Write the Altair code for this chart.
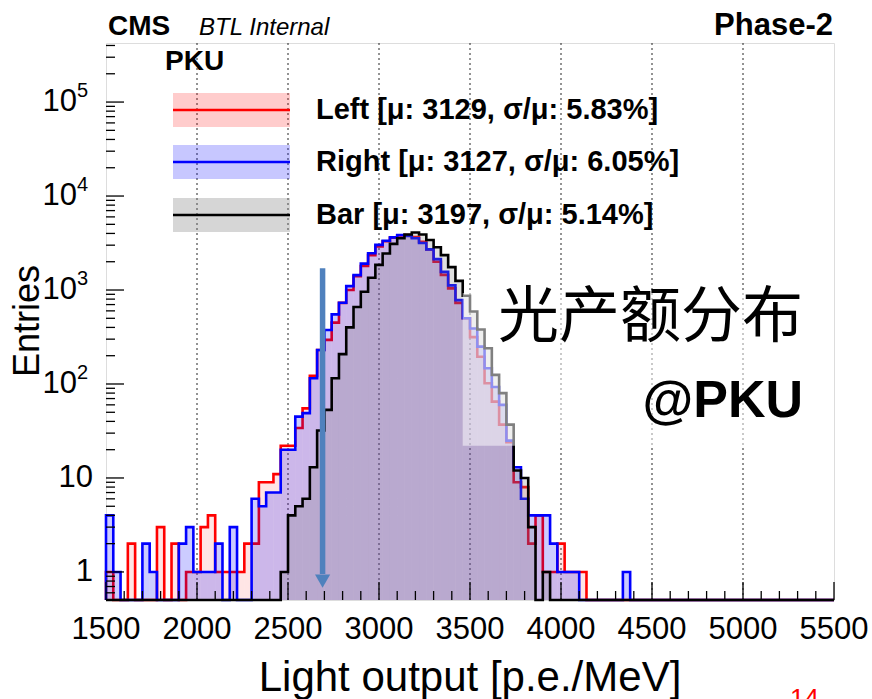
import altair as alt
import pandas as pd
import numpy as np

# Histogram binning: 100 bins of 40 p.e./MeV from 1500 to 5500
BIN_START = 1500
BIN_WIDTH = 40
N_BINS = 100

# Entries per bin, starting at the 1500 bin (trailing bins are empty)
left_counts = [1, 0, 0, 2, 0, 0, 0, 3, 0, 2,
               0, 1, 1, 3, 4, 1, 1, 1, 1, 2,
               2, 9, 9, 11, 22, 22, 34, 55, 122, 230,
               295, 450, 730, 1000, 1400, 1800, 2350, 2900, 3300, 3600,
               3800, 3850, 3650, 3250, 2700, 2000, 1450, 1040, 730, 500,
               315, 195, 102, 65, 37, 24, 9, 8, 2, 4,
               1, 1, 2, 1, 1, 1]
right_counts = [4, 1, 0, 0, 0, 2, 1, 0, 0, 0,
                2, 3, 1, 1, 1, 2, 0, 3, 0, 0,
                6, 5, 7, 7, 20, 20, 45, 49, 115, 230,
                375, 550, 733, 1100, 1440, 1910, 2460, 3020, 3340, 3630,
                3850, 3750, 3550, 3170, 2710, 2130, 1560, 1120, 780, 500,
                390, 250, 147, 93, 60, 25, 13, 6, 4, 4,
                4, 2, 1, 1, 1, 0, 0, 0, 0, 0,
                0, 1]
bar_counts = [0, 0, 0, 0, 0, 0, 0, 0, 0, 0,
              0, 0, 0, 0, 0, 0, 0, 0, 0, 0,
              0, 0, 0, 0, 1, 4, 5, 6, 13, 32,
              53, 115, 208, 400, 660, 960, 1350, 1850, 2450, 3100,
              3550, 3900, 4100, 3900, 3400, 2850, 2350, 1750, 1250, 870,
              590, 380, 240, 125, 80, 37, 12, 10, 3, 0,
              1]

series_names = ["Left", "Right", "Bar"]
series_labels = ["Left [μ: 3129,  σ/μ: 5.83%]",
                 "Right [μ: 3127,  σ/μ: 6.05%]",
                 "Bar [μ: 3197,  σ/μ: 5.14%]"]
series_lines = ["#ff0000", "#0000ff", "#000000"]
series_fills = ["#ff0000", "#0000ff", "#808080"]
series_fill_opacity = [0.1, 0.2, 0.25]

x_ticks = [1500, 2000, 2500, 3000, 3500, 4000, 4500, 5000, 5500]
x_grid = [2000, 2500, 3000, 3500, 4000, 4500, 5000]
y_plain = [1, 10]
y_powers = [2, 3, 4, 5]

# annotation: translucent box behind the Chinese caption, and the arrow
caption_box = {"x0": [3460], "x1": [5380], "y0": [930], "y1": [22]}
arrow = {"x": [2690], "top": [1700], "bottom": [0.95], "head": [0.8]}

W, H = 728, 557
Y_MIN, Y_MAX = 0.503, 4.25e5
FONT = "Liberation Sans"

x_scale = alt.Scale(domain=[1500, 5500], nice=False, zero=False)
y_scale = alt.Scale(type="log", domain=[Y_MIN, Y_MAX], nice=False, clamp=True)


def step_frame(counts):
    c = list(counts) + [0] * (N_BINS - len(counts))
    xs = [BIN_START] + [BIN_START + i * BIN_WIDTH for i in range(N_BINS)] + [BIN_START + N_BINS * BIN_WIDTH]
    ys = [0] + c + [0]
    df = pd.DataFrame({"x": xs, "count": ys})
    df["order"] = np.arange(len(df))
    # empty bins sit below the axis floor and get clamped to it
    df["plot_count"] = np.where(df["count"] > 0, df["count"], 0.01)
    return df


def X(field):
    return alt.X(field, scale=x_scale, axis=None)


def Y(field):
    return alt.Y(field, scale=y_scale, axis=None)


one = pd.DataFrame({"k": [0]})
layers = []

# dotted vertical grid
layers.append(alt.Chart(pd.DataFrame({"x": x_grid})).mark_rule(
    color="#000000", strokeWidth=1, strokeDash=[2, 3], opacity=0.85
).encode(x=X("x:Q"), y=alt.value(0), y2=alt.value(H)))

for counts, line_c, fill_c, fop in zip([left_counts, right_counts, bar_counts],
                                       series_lines, series_fills, series_fill_opacity):
    df = step_frame(counts)
    layers.append(alt.Chart(df).mark_area(
        interpolate="step-after", color=fill_c, opacity=fop
    ).encode(x=X("x:Q"), y=Y("plot_count:Q"), y2=alt.value(H), order="order:Q"))
    layers.append(alt.Chart(df).mark_line(
        interpolate="step-after", color=line_c, strokeWidth=2.6
    ).encode(x=X("x:Q"), y=Y("plot_count:Q"), order="order:Q"))

# inward tick marks
x_major = list(range(1500, 5501, 500))
x_minor = [v for v in range(1500, 5501, 100) if v % 500 != 0]
y_major = [1, 10, 100, 1000, 10000, 100000]
y_minor = [m * 10 ** e for e in range(-1, 6) for m in range(2, 10)
           if Y_MIN < m * 10 ** e < Y_MAX and not (e == -1 and m < 6)]

for vals, length in [(x_major, 18), (x_minor, 9)]:
    layers.append(alt.Chart(pd.DataFrame({"x": vals})).mark_rule(color="#000", strokeWidth=1.3).encode(
        x=X("x:Q"), y=alt.value(H), y2=alt.value(H - length)))
for vals, length in [(y_major, 18), (y_minor, 9)]:
    layers.append(alt.Chart(pd.DataFrame({"y": vals})).mark_rule(color="#000", strokeWidth=1.3).encode(
        y=Y("y:Q"), x=alt.value(0), x2=alt.value(length)))

# tick labels
layers.append(alt.Chart(pd.DataFrame({"x": x_ticks})).mark_text(
    fontSize=31, baseline="middle", align="center", font=FONT, color="#000"
).encode(x=X("x:Q"), y=alt.value(H + 30), text="x:Q"))

layers.append(alt.Chart(pd.DataFrame({"v": y_plain})).mark_text(
    fontSize=31, baseline="middle", align="right", font=FONT, color="#000"
).encode(y=Y("v:Q"), x=alt.value(-13), text="v:Q"))

pow_df = pd.DataFrame({"p": y_powers})
pow_df["v"] = 10.0 ** pow_df["p"]
pow_df["base"] = "10"
layers.append(alt.Chart(pow_df).mark_text(
    fontSize=31, baseline="middle", align="right", font=FONT, color="#000"
).encode(y=Y("v:Q"), x=alt.value(-29), text="base:N"))
layers.append(alt.Chart(pow_df).mark_text(
    fontSize=20, baseline="middle", align="left", font=FONT, color="#000", dy=-11
).encode(y=Y("v:Q"), x=alt.value(-29), text="p:Q"))

# arrow
arrow_df = pd.DataFrame(arrow)
layers.append(alt.Chart(arrow_df).mark_rule(color="#4f81bd", strokeWidth=5.5).encode(
    x=X("x:Q"), y=Y("top:Q"), y2="bottom:Q"))
layers.append(alt.Chart(arrow_df).mark_point(
    shape="triangle-down", filled=True, color="#4f81bd", size=230, opacity=1
).encode(x=X("x:Q"), y=Y("head:Q")))

# translucent caption box
layers.append(alt.Chart(pd.DataFrame(caption_box)).mark_rect(color="white", opacity=0.5).encode(
    x=X("x0:Q"), x2="x1:Q", y=Y("y0:Q"), y2="y1:Q"))


def label(text, x, y, size, weight="normal", style="normal", align="left",
          baseline="alphabetic", color="#000", angle=0, font=FONT):
    return alt.Chart(one).mark_text(
        text=text, fontSize=size, fontWeight=weight, fontStyle=style, align=align,
        baseline=baseline, color=color, angle=angle, font=font
    ).encode(x=alt.value(x), y=alt.value(y))


# legend
legend_rows = [67, 119, 172]
swatch_opacity = [0.2, 0.22, 0.32]
for cy, lab, lc, fc, sop in zip(legend_rows, series_labels,
                                series_lines, series_fills, swatch_opacity):
    layers.append(alt.Chart(one).mark_rect(color=fc, opacity=sop).encode(
        x=alt.value(67), x2=alt.value(184), y=alt.value(cy - 17), y2=alt.value(cy + 17)))
    layers.append(alt.Chart(one).mark_rule(color=lc, strokeWidth=2.6).encode(
        x=alt.value(67), x2=alt.value(184), y=alt.value(cy)))
    layers.append(label(lab, 210, cy, 29, weight="bold", baseline="middle"))

layers += [
    label("CMS", 2, -8, 28, weight="bold"),
    label("BTL Internal", 93, -8, 24, style="italic"),
    label("Phase-2", 727, -8, 31, weight="bold", align="right"),
    label("PKU", 59, 27, 28, weight="bold"),
    label("光产额分布", 697, 276, 61, baseline="middle", align="right", font="Noto Sans CJK SC"),
    label("@PKU", 697, 374, 52, weight="bold", align="right"),
    label("Entries", -78, 278, 36, angle=270, align="center", baseline="middle"),
    label("Light output [p.e./MeV]", 364, 648, 42, align="center"),
    label("14", 684, 664, 26, color="#ff0000"),
]

chart = alt.layer(*layers).properties(
    width=W, height=H,
    autosize=alt.AutoSizeParams(type="none"),
    padding={"left": 106, "top": 43, "right": 38, "bottom": 99},
).configure_view(stroke="#000000", strokeWidth=2).configure(font=FONT, background="white")

chart.save("out.html", embed_options={"renderer": "svg", "actions": False})
